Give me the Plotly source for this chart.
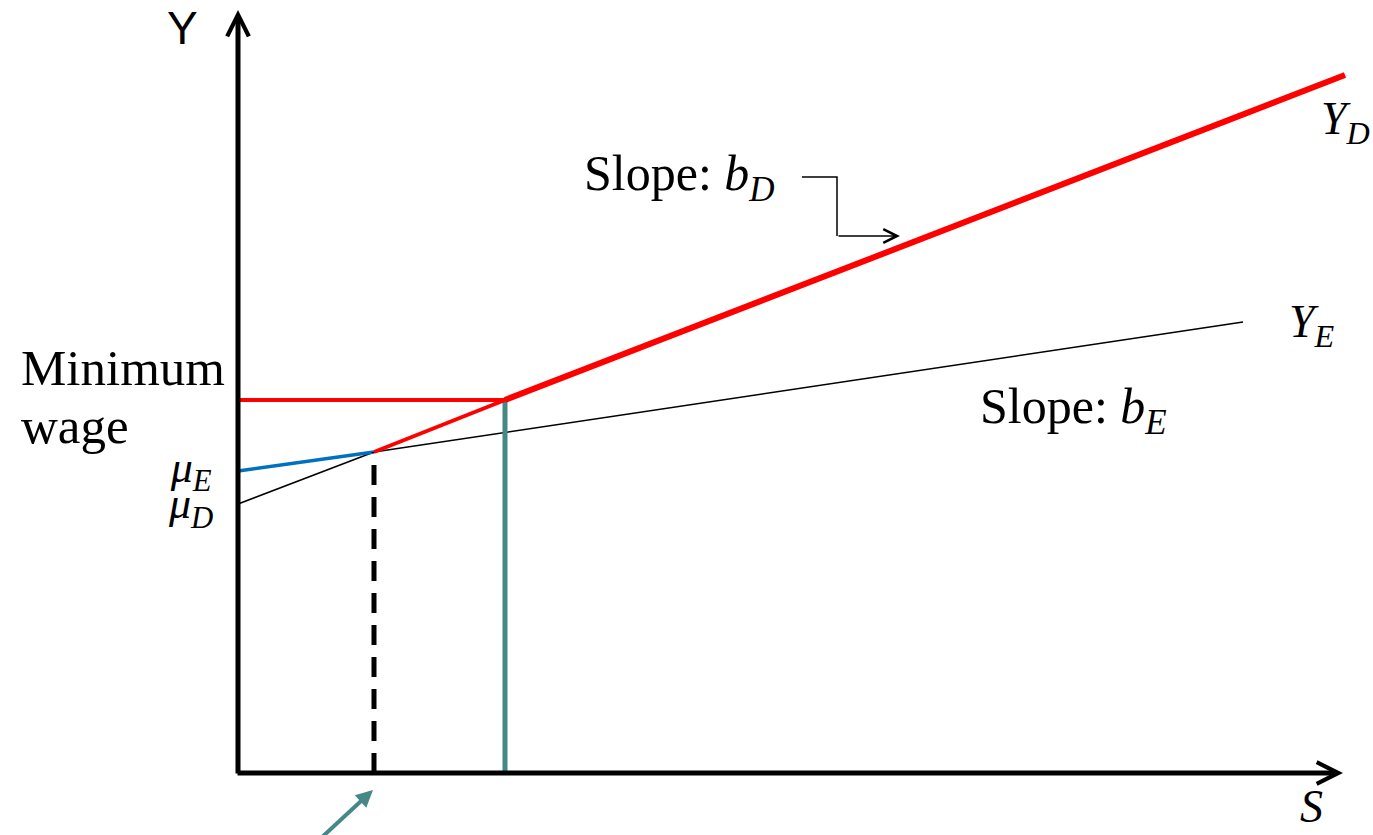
import plotly.graph_objects as go

# schooling S on x, earnings Y on y (units)
s_yd = [0, 136, 267, 1107]        # Y_D line: mu_D, kink with Y_E, minimum wage, end
y_yd = [269, 321, 373, 698]
s_ye = [0, 136, 1005]             # Y_E line: mu_E, crossing, end
y_ye = [302, 321, 451]
s_star = 136                      # dashed drop line
s_min = 267                       # teal drop line
min_wage = 373
y_top = 763
s_right = 1105

# little bent pointer next to "Slope: b_D"
ptr_s = [564, 599, 599, 650]
ptr_y = [596, 596, 537, 537]

serif = "Liberation Serif"
teal = "#468888"

fig = go.Figure()

# Y_D below the kink (thin black)
fig.add_trace(go.Scatter(x=s_yd[:2], y=y_yd[:2], mode="lines",
                         line=dict(color="black", width=1.5)))
# Y_E beyond the kink (thin black)
fig.add_trace(go.Scatter(x=s_ye[1:], y=y_ye[1:], mode="lines",
                         line=dict(color="black", width=1.5)))
# Y_E before the kink (blue)
fig.add_trace(go.Scatter(x=s_ye[:2], y=y_ye[:2], mode="lines",
                         line=dict(color="#0070C0", width=3.5)))
# drop lines
fig.add_trace(go.Scatter(x=[s_star, s_star], y=[0, y_yd[1]], mode="lines",
                         line=dict(color="black", width=5, dash="20px,12px")))
fig.add_trace(go.Scatter(x=[s_min, s_min], y=[0, min_wage], mode="lines",
                         line=dict(color=teal, width=5)))
# minimum wage
fig.add_trace(go.Scatter(x=[0, s_min], y=[min_wage, min_wage], mode="lines",
                         line=dict(color="#FF0000", width=4)))
# Y_D red parts
fig.add_trace(go.Scatter(x=s_yd[1:3], y=y_yd[1:3], mode="lines",
                         line=dict(color="#FF0000", width=4)))
fig.add_trace(go.Scatter(x=s_yd[2:], y=y_yd[2:], mode="lines",
                         line=dict(color="#FF0000", width=6)))
# pointer
fig.add_trace(go.Scatter(x=ptr_s[:3], y=ptr_y[:3], mode="lines",
                         line=dict(color="black", width=1.5)))

# axes with arrows
fig.add_annotation(x=0, y=y_top, ax=0, ay=-2, axref="x", ayref="y",
                   showarrow=True, arrowhead=5, arrowwidth=5, arrowsize=0.85,
                   arrowcolor="black", text="")
fig.add_annotation(x=s_right, y=0, ax=-2, ay=0, axref="x", ayref="y",
                   showarrow=True, arrowhead=5, arrowwidth=5, arrowsize=0.85,
                   arrowcolor="black", text="")
# pointer head
fig.add_annotation(x=662, y=ptr_y[3], ax=ptr_s[2], ay=ptr_y[3], axref="x", ayref="y",
                   showarrow=True, arrowhead=5, arrowwidth=1.5, arrowsize=1.8,
                   arrowcolor="black", text="")
# teal arrow under the axis
fig.add_annotation(x=135, y=-17, ax=82, ay=-66, axref="x", ayref="y",
                   showarrow=True, arrowhead=2, arrowwidth=4, arrowsize=0.85,
                   arrowcolor=teal, text="")

def label(x, y, text, size, family=serif, xanchor="left", yanchor="middle"):
    fig.add_annotation(x=x, y=y, text=text, showarrow=False, xanchor=xanchor,
                       yanchor=yanchor, font=dict(family=family, size=size, color="black"))

big = "<span style='font-size:44px'>{}</span>"
label(-56, 745, "Y", 46, family="Liberation Sans", xanchor="center")
label(-219, 405, "Minimum", 51)
label(-219, 347, "wage", 51)
label(-23, 284, big.format("<i>μ</i><sub><i>E</i></sub>") + "<br>"
      + big.format("<i>μ</i><sub><i>D</i></sub>"), 28, xanchor="right")
label(344, 596, "Slope: <i>b</i><sub><i>D</i></sub>", 50)
label(740, 363, "Slope: <i>b</i><sub><i>E</i></sub>", 50)
label(1081, 651, "<i>Y</i><sub><i>D</i></sub>", 46)
label(1049, 448, "<i>Y</i><sub><i>E</i></sub>", 46)
label(1073, -61, "<i>S</i>", 46, xanchor="center", yanchor="bottom")

fig.update_layout(
    width=1373, height=835,
    margin=dict(l=0, r=0, t=0, b=0),
    paper_bgcolor="white", plot_bgcolor="white",
    showlegend=False,
    xaxis=dict(visible=False, range=[-238, 1135], fixedrange=True),
    yaxis=dict(visible=False, range=[-62, 773], fixedrange=True),
)

fig.write_html("out.html", config={"displayModeBar": False},
               post_script="document.body.style.margin='0';"
               "document.body.style.overflow='hidden';")
